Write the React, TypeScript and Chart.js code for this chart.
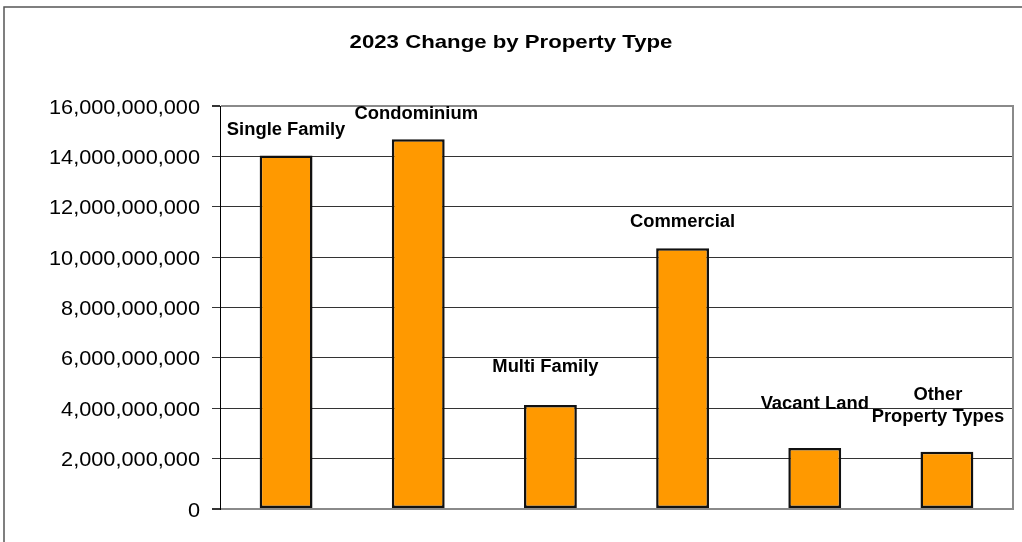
import { useEffect, useRef } from "react";
import { Chart, registerables } from "chart.js";

Chart.register(...registerables);

const chartTitle = "2023 Change by Property Type";
const categories = [
  "Single Family",
  "Condominium",
  "Multi Family",
  "Commercial",
  "Vacant Land",
  "Other Property Types",
];
const labelLines = [
  ["Single Family"],
  ["Condominium"],
  ["Multi Family"],
  ["Commercial"],
  ["Vacant Land"],
  ["Other", "Property Types"],
];
const changeValues = [14030000000, 14680000000, 4130000000, 10350000000, 2420000000, 2270000000];
const yTickValues = [0, 2e9, 4e9, 6e9, 8e9, 10e9, 12e9, 14e9, 16e9];
const yMax = 16e9;

const FONT = '"Liberation Sans", Arial, Helvetica, sans-serif';

function drawStretched(
  ctx: CanvasRenderingContext2D,
  text: string,
  x: number,
  y: number,
  font: string,
  sx: number,
  align: CanvasTextAlign
) {
  ctx.save();
  ctx.font = font;
  ctx.fillStyle = "#000";
  ctx.textBaseline = "alphabetic";
  ctx.textAlign = align;
  ctx.translate(x, y);
  ctx.scale(sx, 1);
  ctx.fillText(text, 0, 0);
  ctx.restore();
}

const decorPlugin = {
  id: "decor",
  afterDraw(chart: any) {
    const ctx: CanvasRenderingContext2D = chart.ctx;
    const area = chart.chartArea;
    // right plot-area border
    ctx.save();
    ctx.strokeStyle = "#8a8a8a";
    ctx.lineWidth = 2;
    ctx.beginPath();
    ctx.moveTo(area.right, area.top - 1);
    ctx.lineTo(area.right, area.bottom + 1);
    ctx.stroke();
    // outer frame
    ctx.strokeStyle = "#555";
    ctx.lineWidth = 1.5;
    ctx.strokeRect(4, 7, 1200, 700);
    ctx.restore();

    // title
    drawStretched(ctx, chartTitle, chart.width / 2, 48, `bold 18.5px ${FONT}`, 1.2, "center");

    // y tick labels
    const yScale = chart.scales.y;
    yTickValues.forEach((v) => {
      const py = yScale.getPixelForValue(v);
      drawStretched(ctx, v.toLocaleString("en-US"), area.left - 20, py + 7.5, `20px ${FONT}`, 1.086, "right");
    });

    // data labels
    const layout = [
      { dx: 0, lift: 21 },
      { dx: -2, lift: 20 },
      { dx: -5, lift: 33 },
      { dx: 0, lift: 21 },
      { dx: 0, lift: 39 },
      { dx: -9, lift: 30 },
    ];
    const meta = chart.getDatasetMeta(0);
    meta.data.forEach((bar: any, i: number) => {
      const lines = labelLines[i];
      const l = layout[i];
      const baseY = bar.y - l.lift;
      lines.forEach((line, j) => {
        const y = baseY - (lines.length - 1 - j) * 21.5;
        drawStretched(ctx, line, bar.x + l.dx, y, `bold 17.5px ${FONT}`, 1.05, "center");
      });
    });
  },
};

export default function App() {
  const canvasRef = useRef<HTMLCanvasElement>(null);

  useEffect(() => {
    const canvas = canvasRef.current;
    if (!canvas) return;
    const chart = new Chart(canvas, {
      type: "bar",
      data: {
        labels: categories,
        datasets: [
          {
            label: "2023 Change",
            data: changeValues,
            backgroundColor: "#FF9900",
            borderColor: "#111",
            borderWidth: 2.5,
            borderSkipped: false,
            categoryPercentage: 1,
            barPercentage: 0.4,
          },
        ],
      },
      options: {
        responsive: false,
        animation: false,
        devicePixelRatio: 1,
        layout: { padding: { top: 106, right: 9, bottom: 33, left: 0 } },
        plugins: {
          legend: { display: false },
          title: { display: false },
          tooltip: { enabled: false },
        },
        scales: {
          x: {
            display: false,
          },
          y: {
            min: 0,
            max: yMax,
            ticks: { stepSize: 2e9, display: false },
            afterFit: (scale: any) => {
              scale.width = 220;
            },
            grid: {
              color: (c: any) =>
                c.tick && (c.tick.value === 0 || c.tick.value === yMax) ? "#8a8a8a" : "#333",
              lineWidth: (c: any) =>
                c.tick && (c.tick.value === 0 || c.tick.value === yMax) ? 2 : 1,
              tickColor: "#333",
              tickLength: 8,
              drawTicks: true,
            },
            border: { display: true, color: "#000", width: 1 },
          },
        },
      },
      plugins: [decorPlugin],
    });
    return () => chart.destroy();
  }, []);

  return (
    <div style={{ position: "absolute", left: 0, top: 0, width: 1022, height: 542, background: "#fff" }}>
      <canvas ref={canvasRef} width={1022} height={542} style={{ display: "block" }} />
    </div>
  );
}
